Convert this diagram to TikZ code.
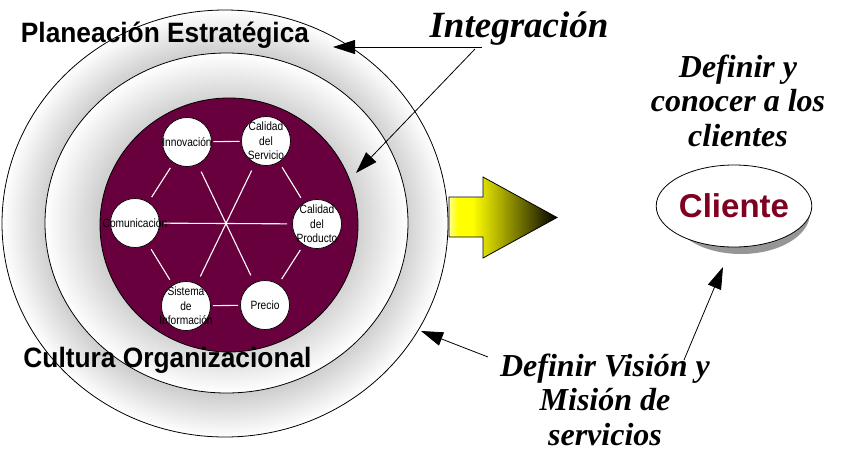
\documentclass[tikz,border=0pt]{standalone}
\usepackage{fontspec}
\setmainfont{Liberation Serif}
\setsansfont{Liberation Sans}
\usetikzlibrary{arrows.meta,shapes.geometric}
\definecolor{maroonfill}{RGB}{105,0,62}
\definecolor{clired}{RGB}{128,0,32}
\definecolor{shadowgray}{RGB}{150,150,150}
\definecolor{ringgray}{RGB}{206,206,206}
\pgfdeclareradialshading{outershade}{\pgfpoint{0bp}{0bp}}{color(0bp)=(ringgray); color(20bp)=(ringgray); color(25bp)=(white); color(50bp)=(white)}
\pgfdeclareradialshading{middleshade}{\pgfpoint{0bp}{0bp}}{color(0bp)=(ringgray); color(17.6bp)=(ringgray); color(25bp)=(white); color(50bp)=(white)}
\pgfdeclarehorizontalshading{arrowshade}{100bp}{color(0bp)=(yellow!45!white); color(25bp)=(yellow!45!white); color(29bp)=(yellow); color(36bp)=(yellow); color(75bp)=(black); color(100bp)=(black)}
\newcommand{\hx}[1]{\scalebox{0.85}[1]{#1}}
\tikzset{
  ringstyle/.style={draw=black, line width=0.8pt},
  hexc/.style={circle, draw=black, fill=white, line width=0.7pt, minimum size=49pt, inner sep=0pt},
  hexlab/.style={font=\sffamily\fontsize{12}{14.5}\selectfont, align=center, inner sep=0pt, text=black},
  hexline/.style={white, line width=1.1pt},
  sanslab/.style={font=\sffamily\bfseries\fontsize{28}{32}\selectfont, inner sep=0pt},
  serlab/.style={font=\rmfamily\bfseries\itshape\fontsize{32}{34.5}\selectfont, inner sep=0pt, align=center},
  arr/.style={line width=0.8pt, -{Triangle[length=22pt, width=14pt]}},
}
\begin{document}
\begin{tikzpicture}[x=1pt,y=-1pt]
\useasboundingbox (0,0) rectangle (847,464);
% rings
\shadedraw[ringstyle, shading=outershade] (225,223.5) ellipse [x radius=223, y radius=213.5];
\shadedraw[ringstyle, shading=middleshade] (226.5,223) ellipse [x radius=181.5, y radius=170];
\filldraw[fill=maroonfill, draw=black, line width=0.8pt] (229,225) ellipse [x radius=129, y radius=127];
% hexagon circles
\node[hexc, label={[hexlab]center:\hx{Innovación}}] (inn) at (187,142) {};
\node[hexc, label={[hexlab]center:\hx{Calidad}\\\hx{del}\\\hx{Servicio}}] (serv) at (266,141) {};
\node[hexc, label={[hexlab]center:\hx{Calidad}\\\hx{del}\\\hx{Producto}}] (prod) at (317,224) {};
\node[hexc, label={[hexlab]center:\hx{Precio}}] (prec) at (265,305) {};
\node[hexc, label={[hexlab]center:\hx{Sistema}\\\hx{de}\\\hx{Información}}] (sist) at (186,306) {};
\node[hexc, label={[hexlab]center:\hx{Comunicación}}] (com) at (135,223) {};
% hexagon lines
\draw[hexline, shorten <=1.5pt, shorten >=1.5pt] (inn) -- (serv);
\draw[hexline, shorten <=6pt, shorten >=6pt] (serv) -- (prod);
\draw[hexline, shorten <=6pt, shorten >=6pt] (prod) -- (prec);
\draw[hexline, shorten <=2pt, shorten >=2pt] (prec) -- (sist);
\draw[hexline, shorten <=6pt, shorten >=6pt] (sist) -- (com);
\draw[hexline, shorten <=6pt, shorten >=6pt] (com) -- (inn);
\draw[hexline, shorten <=4pt, shorten >=5pt] (com) -- (prod);
\draw[hexline, shorten <=8pt, shorten >=8pt] (inn) -- (prec);
\draw[hexline, shorten <=8pt, shorten >=8pt] (serv) -- (sist);
% big arrow
\shadedraw[shading=arrowshade, draw=black, line width=0.8pt] (449,197) -- (483,197) -- (483,177) -- (557,217.5) -- (483,258) -- (483,237) -- (449,237) -- cycle;
% Cliente
\fill[shadowgray] (741,213) ellipse [x radius=69, y radius=41];
\node[ellipse, draw=black, fill=white, line width=0.8pt, minimum width=138pt, minimum height=82pt, inner sep=0pt,
      font=\sffamily\bfseries\fontsize{33}{36}\selectfont, text=clired] (cli) at (734,206) {Cliente};
% labels
\node[sanslab, anchor=base] (plan) at (165,42) {\scalebox{0.94}[1]{Planeación Estratégica}};
\node[sanslab, anchor=base] (cult) at (167.5,367) {\scalebox{0.94}[1]{Cultura Organizacional}};
\node[serlab, font=\rmfamily\bfseries\itshape\fontsize{37}{40}\selectfont, anchor=base] (integ) at (519,37) {Integración};
\node[serlab, anchor=base] (defc) at (738,146) {Definir y\\conocer a los\\clientes};
\node[serlab, anchor=base] (defv) at (605,445) {Definir Visión y\\Misión de\\servicios};
% connectors
\coordinate (ij1) at (482,47);
\coordinate (ij2) at (475,49);
\coordinate (t1) at (333,47);
\coordinate (t2) at (356,173);
\coordinate (v1) at (488,357);
\coordinate (t3) at (421,331);
\coordinate (v2) at (684,360);
\coordinate (t4) at (723,267);
\draw[arr] (ij1) -- (t1);
\draw[arr] (ij2) -- (t2);
\draw[arr] (v1) -- (t3);
\draw[arr] (v2) -- (t4);
\end{tikzpicture}
\end{document}
